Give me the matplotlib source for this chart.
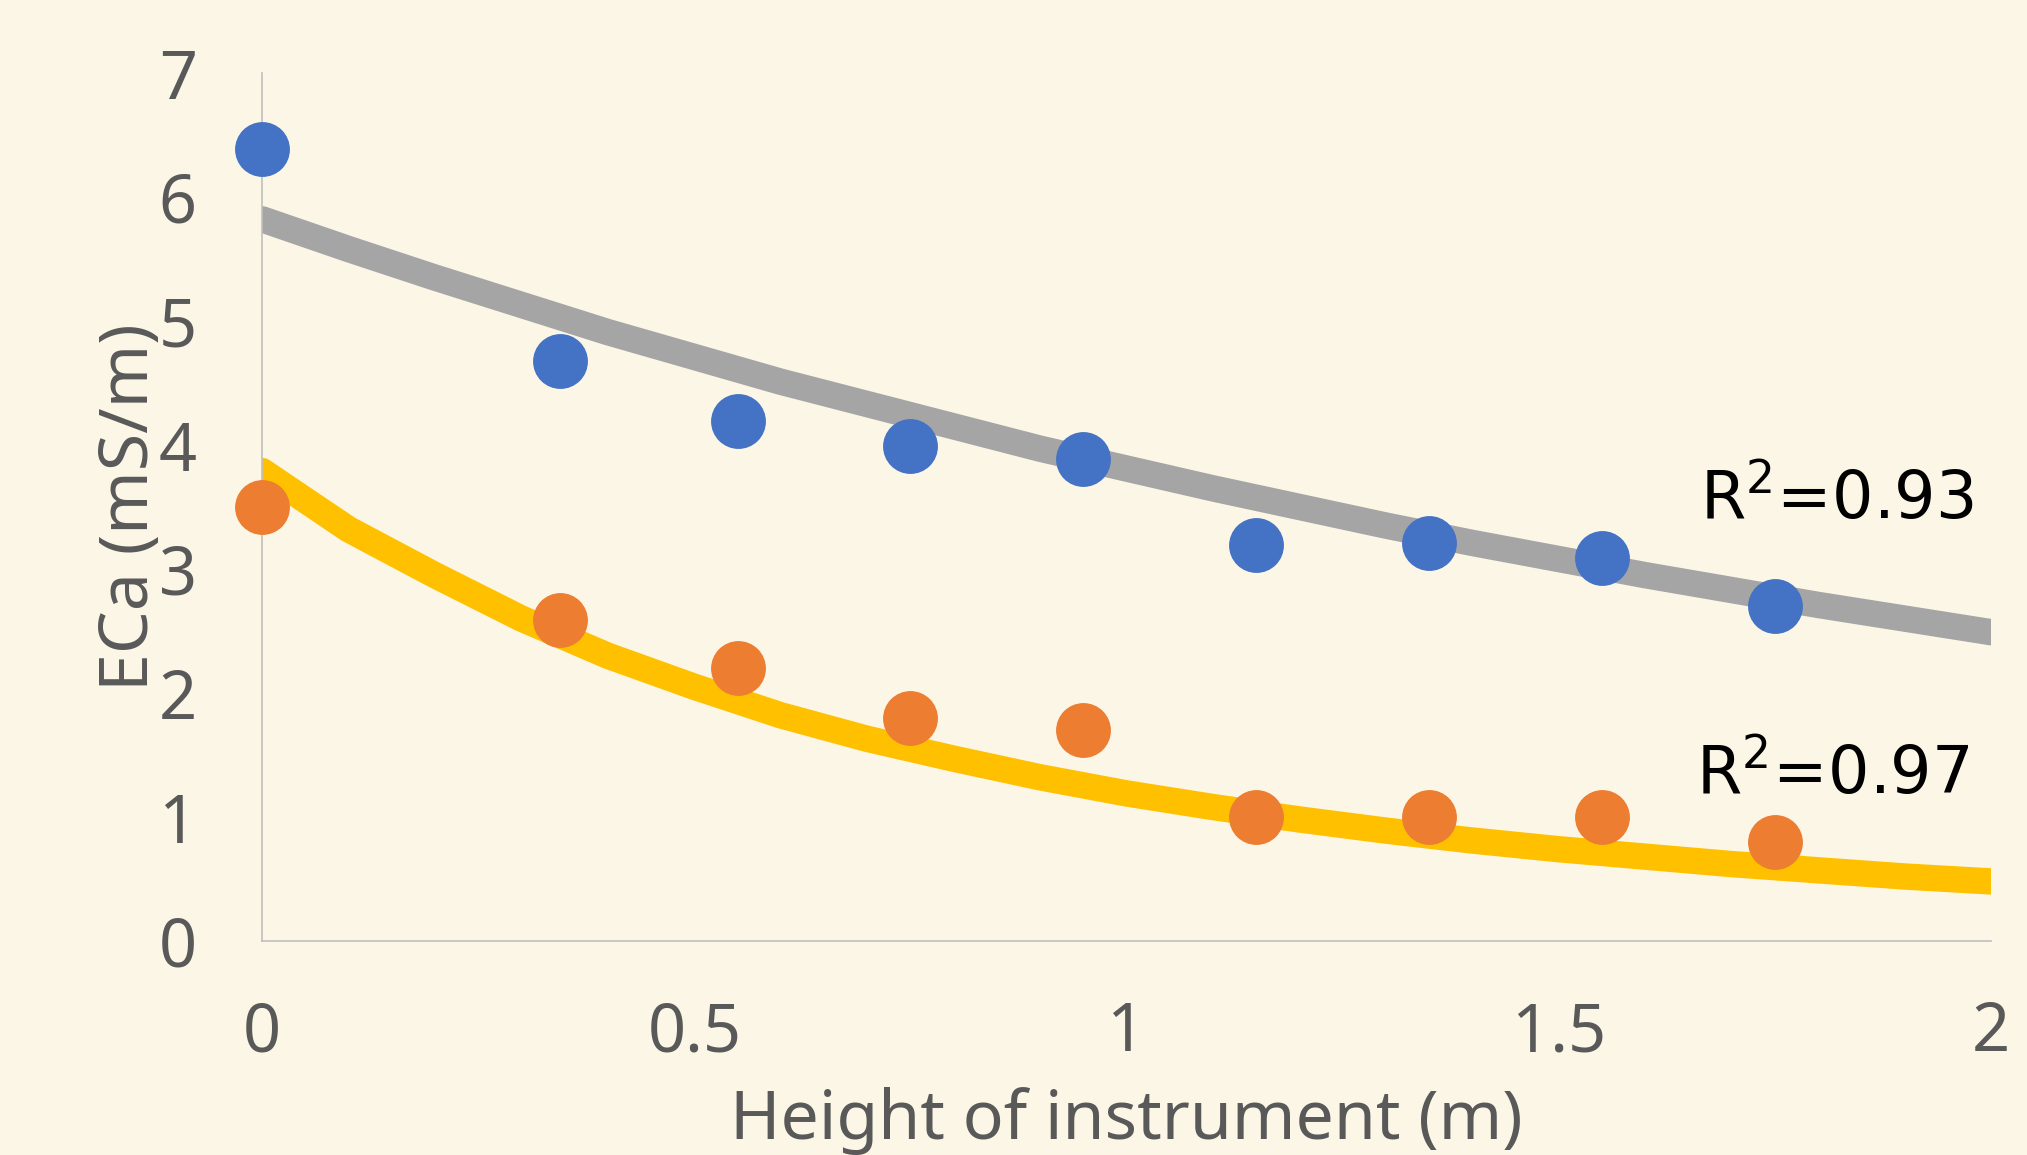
import matplotlib
matplotlib.use("Agg")
import matplotlib.pyplot as plt

# measured points
height_x = [0, 0.345, 0.55, 0.75, 0.95, 1.15, 1.35, 1.55, 1.75]
eca_blue = [6.39, 4.68, 4.19, 3.99, 3.89, 3.19, 3.21, 3.09, 2.70]
eca_orange = [3.50, 2.59, 2.20, 1.80, 1.70, 1.00, 1.00, 1.00, 0.80]

# trendlines, every 0.1 m
trend_x = [0, 0.1, 0.2, 0.3, 0.4, 0.5, 0.6, 0.7, 0.8, 0.9, 1.0,
           1.1, 1.2, 1.3, 1.4, 1.5, 1.6, 1.7, 1.8, 1.9, 2.0]
trend_gray = [5.82, 5.58, 5.35, 5.13, 4.91, 4.71, 4.51, 4.33, 4.15, 3.97, 3.81,
              3.65, 3.50, 3.35, 3.21, 3.08, 2.95, 2.83, 2.71, 2.60, 2.49]
trend_yellow = [3.79, 3.32, 2.95, 2.60, 2.30, 2.05, 1.82, 1.63, 1.47, 1.32, 1.19,
                1.08, 0.98, 0.89, 0.81, 0.74, 0.68, 0.62, 0.57, 0.52, 0.48]

r2_labels = [r"R$^{2}$=0.93", r"R$^{2}$=0.97"]

xticks = [0, 0.5, 1, 1.5, 2]
xtick_labels = ["0", "0.5", "1", "1.5", "2"]
yticks = [0, 1, 2, 3, 4, 5, 6, 7]

bg = "#FCF6E6"
txt = "#595959"
plt.rcParams["font.family"] = ["Noto Sans", "DejaVu Sans"]
plt.rcParams["mathtext.fontset"] = "dejavusans"

fig = plt.figure(figsize=(20.27, 11.55), dpi=100, facecolor=bg)
ax = fig.add_axes([0.1293, 0.1853, 0.8530, 0.7515])
ax.set_facecolor(bg)

ax.plot(trend_x, trend_gray, color="#A5A5A5", lw=19, solid_capstyle="round", zorder=2)
ax.plot(trend_x, trend_yellow, color="#FFC000", lw=19, solid_capstyle="round", zorder=2)
ax.plot(height_x, eca_blue, "o", color="#4472C4", ms=39.5, mew=0, zorder=3, clip_on=False)
ax.plot(height_x, eca_orange, "o", color="#ED7D31", ms=39.5, mew=0, zorder=3, clip_on=False)

# R² labels
ax.text(1.663, 3.406, r2_labels[0], fontsize=47, family="DejaVu Sans",
        color="black", ha="left", va="baseline")
ax.text(1.659, 1.185, r2_labels[1], fontsize=47, family="DejaVu Sans",
        color="black", ha="left", va="baseline")

ax.set_xlim(0, 2)
ax.set_ylim(0, 7)
ax.set_xticks(xticks)
ax.set_xticklabels(xtick_labels)
ax.set_yticks(yticks)
ax.tick_params(axis="both", length=0, labelsize=48, labelcolor=txt)
ax.tick_params(axis="x", pad=42)
ax.tick_params(axis="y", pad=47)

for side in ["top", "right"]:
    ax.spines[side].set_visible(False)
for side in ["left", "bottom"]:
    ax.spines[side].set_color("#BFBFBF")
    ax.spines[side].set_linewidth(1.2)

ax.set_xlabel("Height of instrument (m)", fontsize=49, color=txt, va="baseline")
ax.xaxis.set_label_coords(0.5, -0.228)
ax.set_ylabel("ECa (mS/m)", fontsize=49, color=txt, va="baseline")
ax.yaxis.set_label_coords(-0.0659, 0.5)

fig.savefig("out.png", dpi=100, facecolor=bg)
